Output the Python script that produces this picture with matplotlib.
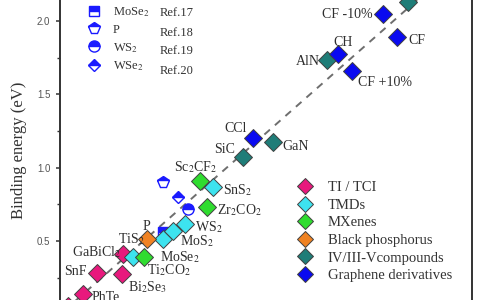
import matplotlib
matplotlib.use("Agg")
import matplotlib.pyplot as plt
from matplotlib.lines import Line2D
from matplotlib.ticker import MultipleLocator

plt.rcParams['font.family'] = ['Liberation Serif', 'DejaVu Serif']
plt.rcParams['mathtext.fontset'] = 'stix'

# ---------------- data (x: reference, y: binding energy, eV) ----------------
ti_x = [0.048, 0.138, 0.222, 0.372, 0.378]
ti_y = [0.057, 0.139, 0.282, 0.275, 0.412]
ti_lab = ["", "PhTe", "SnF", "Bi$_2$Se$_3$", "GaBiCl$_2$"]

tmd_x = [0.438, 0.618, 0.678, 0.750, 0.918]
tmd_y = [0.391, 0.514, 0.569, 0.616, 0.868]
tmd_lab = ["TiS$_2$", "MoSe$_2$", "MoS$_2$", "WS$_2$", "SnS$_2$"]

mx_x = [0.504, 0.882, 0.840]
mx_y = [0.391, 0.732, 0.909]
mx_lab = ["Ti$_2$CO$_2$", "Zr$_2$CO$_2$", "Sc$_2$CF$_2$"]

bp_x = [0.522]
bp_y = [0.514]
bp_lab = ["P"]

iv_x = [1.098, 1.278, 1.602, 2.088]
iv_y = [1.073, 1.175, 1.734, 2.130]
iv_lab = ["SiC", "GaN", "AlN", ""]

gr_x = [1.158, 1.668, 1.752, 1.938, 2.022]
gr_y = [1.202, 1.775, 1.659, 2.048, 1.891]
gr_lab = ["CCl", "CH", "CF +10%", "CF -10%", "CF"]

ref_x = [0.618, 0.618, 0.768, 0.708]
ref_y = [0.562, 0.903, 0.718, 0.800]
ref_names = ["MoSe$_2$", "P", "WS$_2$", "WSe$_2$"]
ref_tags = ["Ref.17", "Ref.18", "Ref.19", "Ref.20"]
ref_markers = ["s", "p", "o", "D"]

cat_names = ["TI / TCI", "TMDs", "MXenes", "Black phosphorus",
             "IV/III-Vcompounds", "Graphene derivatives"]
cat_colors = ["#e8197d", "#3de3ef", "#2fdc2f", "#f08222", "#1f7d78", "#0a0af0"]

diag = [0.0, 2.5]

# label offsets (pixels): dx, dy, ha
offsets = {
    "PhTe": (9, -3, "left"), "SnF": (-10, 2, "right"), "Bi$_2$Se$_3$": (6, -13, "left"),
    "GaBiCl$_2$": (-2, 2, "right"),
    "TiS$_2$": (-15, 18, "left"), "MoSe$_2$": (-3, -18, "left"), "MoS$_2$": (7, -10, "left"),
    "WS$_2$": (10, -3, "left"), "SnS$_2$": (10, -3, "left"),
    "Ti$_2$CO$_2$": (3, -13, "left"), "Zr$_2$CO$_2$": (10, -3, "left"),
    "Sc$_2$CF$_2$": (-4, 14, "center"),
    "P": (-1, 13, "center"),
    "SiC": (-8, 7, "right"), "GaN": (9, -4, "left"), "AlN": (-7, -1, "right"),
    "CCl": (-6, 10, "right"), "CH": (5, 12, "center"), "CF +10%": (6, -11, "left"),
    "CF -10%": (-10, -1, "right"), "CF": (11, -4, "left"),
}

# ---------------- figure ----------------
fig = plt.figure(figsize=(4.8, 3.0), dpi=100)
ax = fig.add_axes([60 / 480, 0, 411.7 / 480, 1])
ax.set_xlim(0, 2.47)
ax.set_ylim(0.0982, 2.1432)

ax.plot(diag, diag, ls=(0, (3.8, 3.4)), color="#6e6e6e", lw=1.4, zorder=1)

# reference markers (half filled)
ref_color = "#1a1aff"
ref_ms = {"s": 7.5, "p": 8.5, "o": 8, "D": 6.5}
for x, y, m in zip(ref_x, ref_y, ref_markers):
    ax.plot([x], [y], marker=m, ms=ref_ms[m], ls="none", color=ref_color,
            mfc=ref_color, mfcalt="white", mec=ref_color, fillstyle="top", mew=1.0, zorder=2)

groups = [(ti_x, ti_y, ti_lab), (tmd_x, tmd_y, tmd_lab), (mx_x, mx_y, mx_lab),
          (bp_x, bp_y, bp_lab), (iv_x, iv_y, iv_lab), (gr_x, gr_y, gr_lab)]
for i, ((xs, ys, labs), col) in enumerate(zip(groups, cat_colors)):
    ax.plot(xs, ys, marker="D", ms=9.3, ls="none", mfc=col, mec="#404040", mew=0.7,
            zorder=3 + i, clip_on=True)
    for x, y, lab in zip(xs, ys, labs):
        if not lab:
            continue
        dx, dy, ha = offsets[lab]
        ax.annotate(lab, (x, y), xytext=(dx, dy), textcoords="offset pixels",
                    ha=ha, va="center", fontsize=10, color="#2e2e2e", zorder=10)

# axes styling
for s in ["top", "bottom"]:
    ax.spines[s].set_visible(False)
for s in ["left", "right"]:
    ax.spines[s].set_linewidth(1.4)
    ax.spines[s].set_color("#333333")
ax.set_xticks([])
ax.yaxis.set_major_locator(MultipleLocator(0.5))
ax.yaxis.set_minor_locator(MultipleLocator(0.25))
ax.tick_params(axis="y", which="major", direction="out", length=3, width=1.1,
               color="#333333", labelsize=7, labelcolor="#555555", pad=4)
ax.tick_params(axis="y", which="minor", direction="out", length=2.2, width=1.0,
               color="#333333")
ax.yaxis.set_major_formatter(matplotlib.ticker.FormatStrFormatter("%.1f"))
plt.setp(ax.get_yticklabels(), fontfamily="Liberation Sans")
ax.set_ylabel("Binding energy (eV)", fontsize=12, color="#333333")
ax.yaxis.set_label_coords(-0.08, 0.5)

# category legend
cat_handles = [Line2D([], [], marker="D", ms=8.5, ls="none", mfc=c, mec="#404040", mew=0.7)
               for c in cat_colors]
leg2 = ax.legend(cat_handles, cat_names, loc="upper left",
                 bbox_to_anchor=(298 / 480, 1 - 181 / 300), bbox_transform=fig.transFigure,
                 frameon=False, fontsize=10.5, handlelength=1.0, handletextpad=1.05,
                 labelspacing=0.3, borderpad=0, borderaxespad=0, labelcolor="#333333")
ax.add_artist(leg2)

# reference legend
ref_handles = [Line2D([], [], marker=m, ms=ref_ms[m], ls="none", color=ref_color,
                      mfc=ref_color, mfcalt="white", mec=ref_color, fillstyle="top", mew=1.0)
               for m in ref_markers]
leg1 = ax.legend(ref_handles, ref_names, loc="upper left",
                 bbox_to_anchor=(88 / 480, 1 - 5 / 300), bbox_transform=fig.transFigure,
                 frameon=False, fontsize=9, handlelength=1.0, handletextpad=1.0,
                 labelspacing=0.4, borderpad=0, borderaxespad=0, labelcolor="#333333")
ref_rows = [13, 33, 51, 71]
for tag, py in zip(ref_tags, ref_rows):
    fig.text(160 / 480, 1 - py / 300, tag, ha="left", va="center", fontsize=9, color="#333333")

fig.savefig("out.png", dpi=100)
